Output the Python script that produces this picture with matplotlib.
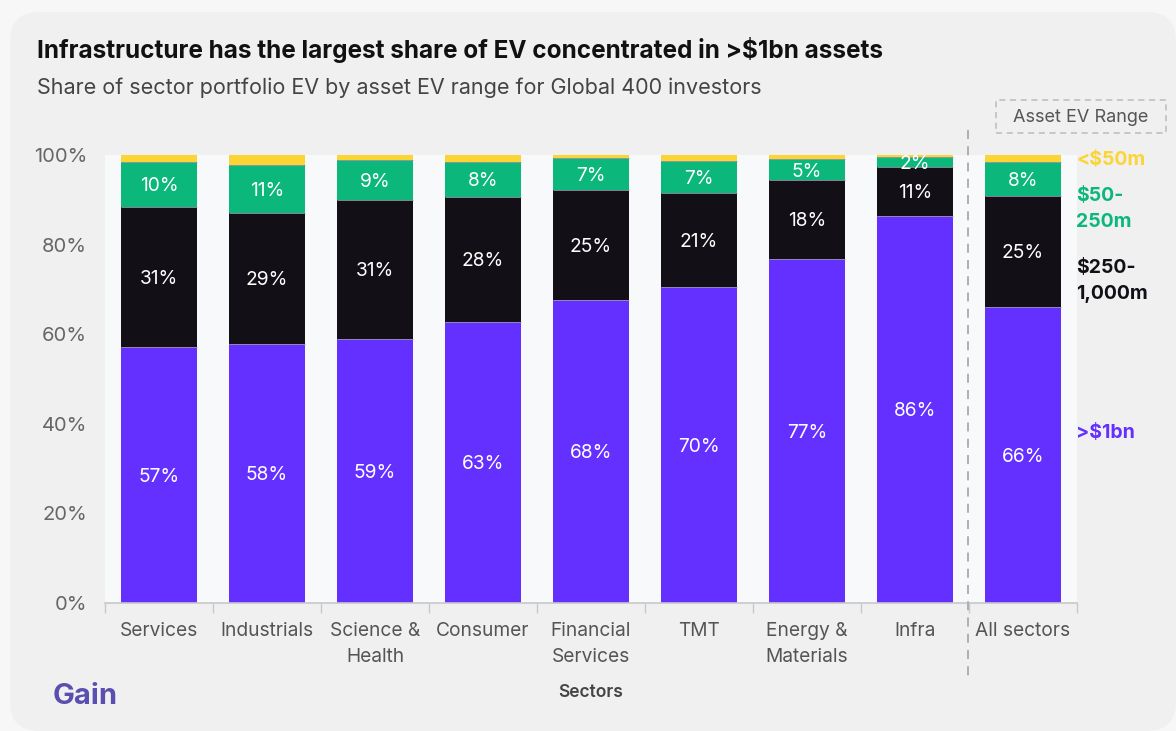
import matplotlib
matplotlib.use("Agg")
import matplotlib.pyplot as plt
from matplotlib.patches import FancyBboxPatch, Rectangle
import numpy as np

plt.rcParams['font.family'] = ['Inter', 'DejaVu Sans']

categories = ["Services", "Industrials", "Science &\nHealth", "Consumer", "Financial\nServices",
              "TMT", "Energy &\nMaterials", "Infra", "All sectors"]
over_1bn = [57.1, 57.8, 58.9, 62.7, 67.6, 70.5, 76.8, 86.4, 66.1]
m250_1000 = [31.3, 29.2, 31.1, 27.9, 24.6, 21.0, 17.6, 10.9, 24.8]
m50_250 = [10.0, 10.8, 8.9, 7.8, 7.1, 7.2, 4.6, 2.3, 7.6]
under_50 = [1.6, 2.2, 1.1, 1.6, 0.7, 1.3, 1.0, 0.4, 1.5]
series_names = [">$1bn", "$250-\n1,000m", "$50-\n250m", "<$50m"]
y_ticks = [0, 20, 40, 60, 80, 100]

colors = ["#6430FF", "#121016", "#0BB77A", "#FCD535"]

W, H = 1176, 731
fig = plt.figure(figsize=(W / 100, H / 100), dpi=100)
fig.patch.set_facecolor("#f7f7f7")

card = FancyBboxPatch((10 / W, 0 / H), (W - 10) / W, (H - 12) / H,
                      boxstyle="round,pad=0,rounding_size=0.025",
                      transform=fig.transFigure, facecolor="#f0f0f0", edgecolor="none",
                      mutation_aspect=W / H, zorder=-10)
fig.patches.append(card)

ax = fig.add_axes([105 / W, (H - 603) / H, (1077 - 105) / W, (603 - 155) / H])
ax.set_facecolor("#f8f9fa")
ax.set_zorder(1)

x = np.arange(len(categories))
series = [over_1bn, m250_1000, m50_250, under_50]
bottom = np.zeros(len(categories))
bw = 0.71
for vals, c in zip(series, colors):
    vals = np.array(vals)
    ax.bar(x, vals, bw, bottom=bottom, color=c, edgecolor=c, linewidth=0, zorder=2)
    bottom = bottom + vals

# thin separators at top of segments
bottom = np.zeros(len(categories))
for i, vals in enumerate(series[:-1]):
    vals = np.array(vals)
    bottom = bottom + vals
    for xi, b in zip(x, bottom):
        ax.plot([xi - bw / 2, xi + bw / 2], [b, b], color="#9a97a8", lw=0.6, zorder=3,
                solid_capstyle="butt")

# value labels
bottom = np.zeros(len(categories))
for si, vals in enumerate(series[:3]):
    vals = np.array(vals)
    for xi, b, v in zip(x, bottom, vals):
        ax.text(xi, b + v / 2 - 0.4, f"{round(v):d}%", ha="center", va="center",
                color="white", fontsize=13.8, zorder=4)
    bottom = bottom + vals

ax.set_xlim(-0.5, len(categories) - 0.5)
ax.set_ylim(0, 100)
ax.set_yticks(y_ticks)
ax.set_yticklabels([f"{t}%" for t in y_ticks], color="#666666", fontsize=14.5)
ax.tick_params(axis="y", length=0, pad=13)
ax.set_xticks(x)
ax.set_xticklabels(categories, color="#555555", fontsize=13.8, linespacing=1.55)
ax.tick_params(axis="x", which="major", length=0, pad=14)
ax.set_xticks(np.arange(-0.5, len(categories), 1), minor=True)
ax.tick_params(axis="x", which="minor", length=7, color="#c8c8c8", width=1)
for s in ["top", "right", "left"]:
    ax.spines[s].set_visible(False)
ax.spines["bottom"].set_color("#c8c8c8")
ax.spines["bottom"].set_linewidth(1.2)

ax.set_xlabel("Sectors", fontsize=12.5, color="#444444", fontweight="semibold", labelpad=13)

# dashed divider
ax.plot([7.49, 7.49], [1.056, -0.165], transform=ax.get_xaxis_transform(), clip_on=False,
        color="#aaaaaa", lw=1.3, ls=(0, (5, 4)), zorder=5)

# title and subtitle
fig.text(37 / W, 1 - 50 / H, "Infrastructure has the largest share of EV concentrated in >$1bn assets",
         fontsize=17.5, fontweight="bold", color="#111111", va="center", ha="left")
fig.text(37 / W, 1 - 88 / H, "Share of sector portfolio EV by asset EV range for Global 400 investors",
         fontsize=15.5, color="#444444", va="center", ha="left")

# legend header
fig.patches.append(Rectangle((996 / W, 1 - 133 / H), 170 / W, 33 / H, transform=fig.transFigure,
                             facecolor="none", edgecolor="#bbbbbb", lw=1.1, ls=(0, (4, 3))))
fig.text(1081 / W, 1 - 117 / H, "Asset EV Range", fontsize=13, color="#555555",
         ha="center", va="center")

# right-side series labels
label_y = [433, 281, 209, 160]
for name, c, yy in zip(series_names, colors, label_y):
    fig.text(1076 / W, 1 - yy / H, name, fontsize=14, fontweight="bold", color=c,
             ha="left", va="center", linespacing=1.55)

# logo
fig.text(53 / W, 1 - 697 / H, "Gain", fontsize=21, fontweight="bold", color="#5a4fb0",
         ha="left", va="center")

fig.savefig("out.png", dpi=100, facecolor=fig.get_facecolor())
